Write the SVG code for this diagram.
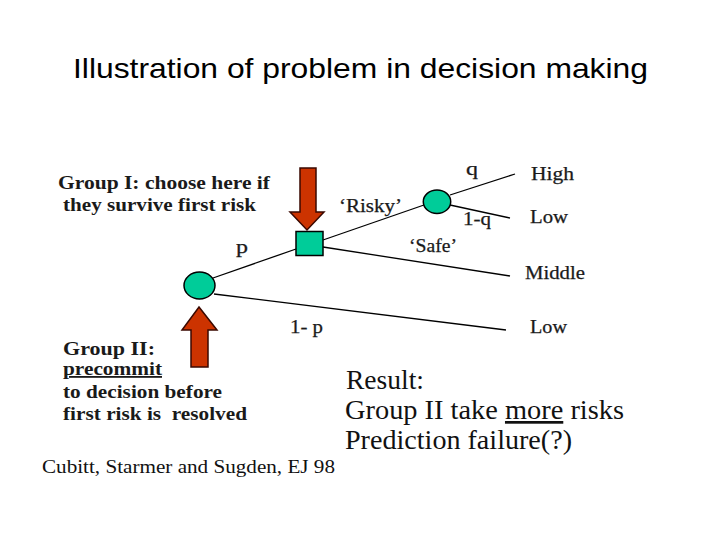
<svg xmlns="http://www.w3.org/2000/svg" width="720" height="540" viewBox="0 0 720 540">
<style>
.title{font-family:"Liberation Sans",Arial,sans-serif;font-size:28.5px;fill:#000}
.lbl{font-family:"Liberation Serif","Times New Roman",serif;font-size:18px;fill:#1a1a1a;stroke:#1a1a1a;stroke-width:0.25}
.grp{font-family:"Liberation Serif","Times New Roman",serif;font-size:18px;font-weight:bold;fill:#1a1a1a}
.cite{font-family:"Liberation Serif","Times New Roman",serif;font-size:18px;fill:#111}
.res{font-family:"Liberation Serif","Times New Roman",serif;font-size:27px;fill:#111}
.node{fill:#00CC99;stroke:#000;stroke-width:1.5}
.arrow{fill:#CC3300;stroke:#3a0800;stroke-width:1.5}
.edge{stroke:#000;stroke-width:1.3;fill:none}
</style>
<rect width="720" height="540" fill="#fff"/>
<text class="title" x="73" y="78" textLength="575" lengthAdjust="spacingAndGlyphs">Illustration of problem in decision making</text>

<g id="connectors">
<line class="edge" x1="213" y1="278" x2="296" y2="249"/>
<line class="edge" x1="323" y1="240" x2="424" y2="205"/>
<line class="edge" x1="450" y1="195" x2="515" y2="174"/>
<line class="edge" x1="450" y1="205" x2="510" y2="218"/>
<line class="edge" x1="323" y1="247" x2="510" y2="276"/>
<line class="edge" x1="214" y1="294" x2="506" y2="330"/>
</g>

<g id="arrow-group1"><polygon class="arrow" points="300,168 316,168 316,212 324,212 307,230 290,212 300,212"/></g>
<g id="arrow-group2"><polygon class="arrow" points="199,307 217,330 208,330 208,367 191,367 191,330 182,330"/></g>

<g id="chance-p"><ellipse class="node" cx="199.5" cy="285.5" rx="15.5" ry="13.5"/></g>
<g id="decision"><rect class="node" x="296" y="231.5" width="27" height="24"/></g>
<g id="chance-q"><ellipse class="node" cx="437" cy="201.7" rx="13.7" ry="11.7"/></g>

<g id="labels">
<text class="lbl" x="236" y="253" textLength="12" lengthAdjust="spacingAndGlyphs">p</text>
<text class="lbl" x="290" y="333" textLength="33" lengthAdjust="spacingAndGlyphs">1- p</text>
<text class="lbl" x="339" y="212" textLength="63" lengthAdjust="spacingAndGlyphs">‘Risky’</text>
<text class="lbl" x="409" y="252" textLength="48" lengthAdjust="spacingAndGlyphs">‘Safe’</text>
<text class="lbl" x="466" y="175" textLength="12" lengthAdjust="spacingAndGlyphs">q</text>
<text class="lbl" x="463" y="225" textLength="28" lengthAdjust="spacingAndGlyphs">1-q</text>
</g>

<g id="outcome-high"><text class="lbl" x="531" y="180" textLength="43" lengthAdjust="spacingAndGlyphs">High</text></g>
<g id="outcome-low1"><text class="lbl" x="530" y="223" textLength="38" lengthAdjust="spacingAndGlyphs">Low</text></g>
<g id="outcome-middle"><text class="lbl" x="525" y="279" textLength="60" lengthAdjust="spacingAndGlyphs">Middle</text></g>
<g id="outcome-low2"><text class="lbl" x="530" y="333" textLength="37" lengthAdjust="spacingAndGlyphs">Low</text></g>

<g id="group1-text">
<text class="grp" x="58" y="189" textLength="212" lengthAdjust="spacingAndGlyphs">Group I: choose here if</text>
<text class="grp" x="63" y="211" textLength="193" lengthAdjust="spacingAndGlyphs">they survive first risk</text>
</g>

<g id="group2-text">
<text class="grp" x="63" y="355" textLength="92" lengthAdjust="spacingAndGlyphs">Group II:</text>
<text class="grp" x="63" y="375" textLength="99" lengthAdjust="spacingAndGlyphs" text-decoration="underline">precommit</text>
<text class="grp" x="63" y="398" textLength="159" lengthAdjust="spacingAndGlyphs">to decision before</text>
<text class="grp" x="63" y="420" textLength="184" lengthAdjust="spacingAndGlyphs" xml:space="preserve">first risk is  resolved</text>
</g>

<g id="result">
<text class="res" x="346" y="389" textLength="78" lengthAdjust="spacingAndGlyphs">Result:</text>
<text class="res" x="345" y="419" textLength="279" lengthAdjust="spacingAndGlyphs">Group II take <tspan text-decoration="underline">more</tspan> risks</text>
<text class="res" x="345" y="449" textLength="227" lengthAdjust="spacingAndGlyphs">Prediction failure(?)</text>
</g>

<g id="citation"><text class="cite" x="42" y="473" textLength="293" lengthAdjust="spacingAndGlyphs">Cubitt, Starmer and Sugden, EJ 98</text></g>
</svg>
